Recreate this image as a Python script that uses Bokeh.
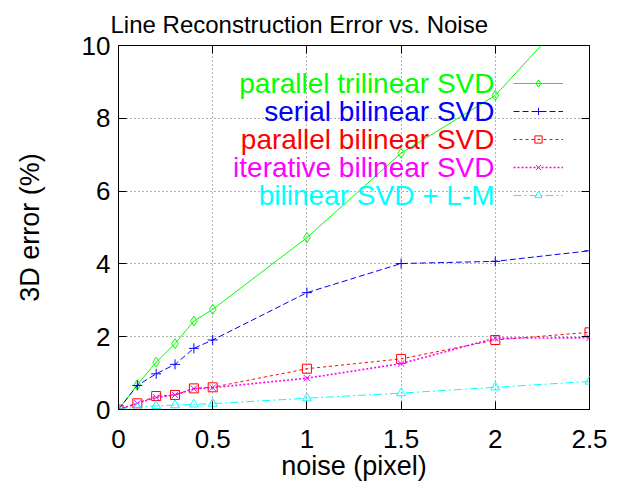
from bokeh.plotting import figure
from bokeh.models import (Range1d, FixedTicker, LinearAxis, Legend, LegendItem,
                          Label, CustomJSTickFormatter)
from bokeh.core.properties import value
from bokeh.embed import file_html
from bokeh.resources import INLINE

FONT = "Liberation Sans"

# ---- data ----
noise = [0, 0.1, 0.2, 0.3, 0.4, 0.5, 1, 1.5, 2, 2.5]
parallel_trilinear = [0, 0.68, 1.30, 1.81, 2.43, 2.75, 4.72, 7.04, 8.63, 11.45]
serial_bilinear = [0, 0.66, 0.98, 1.24, 1.68, 1.91, 3.21, 4.01, 4.07, 4.36]
parallel_bilinear = [0, 0.17, 0.37, 0.40, 0.58, 0.61, 1.12, 1.39, 1.91, 2.12]
iterative_bilinear = [0, 0.17, 0.33, 0.40, 0.57, 0.60, 0.86, 1.26, 1.96, 1.97]
bilinear_lm = [0, 0.06, 0.10, 0.12, 0.14, 0.16, 0.31, 0.45, 0.61, 0.77]

series_names = ["parallel trilinear SVD", "serial bilinear SVD", "parallel bilinear SVD",
                "iterative bilinear SVD", "bilinear SVD + L-M"]
x_ticks = [0, 0.5, 1, 1.5, 2, 2.5]
x_tick_labels = ["0", "0.5", "1", "1.5", "2", "2.5"]
y_ticks = [0, 2, 4, 6, 8, 10]
y_tick_labels = ["0", "2", "4", "6", "8", "10"]

series_values = [parallel_trilinear, serial_bilinear, parallel_bilinear,
                 iterative_bilinear, bilinear_lm]
colors = ["#00ff00", "#0000ff", "#ff0000", "#ff00ff", "#00ffff"]
dashes = ["solid", "6 3", "3 3", "2 2", "8 3 2 3"]
widths = [1, 1, 1, 1.6, 1]
markers = ["diamond", "cross", "square", "x", "triangle"]
msizes = [10, 10, 9, 9, 9]

p = figure(frame_width=471, frame_height=364,
           x_range=Range1d(0, 2.5), y_range=Range1d(0, 10),
           output_backend="svg", toolbar_location=None,
           min_border_left=118, min_border_right=24,
           min_border_top=45, min_border_bottom=70,
           background_fill_color="white", border_fill_color="white")

p.title.text = "Line Reconstruction Error vs. Noise"
p.title.text_font = FONT
p.title.text_font_size = "24px"
p.title.text_font_style = "normal"
p.title.text_color = "black"
p.title.align = "left"
p.title.offset = -8
p.title.standoff = 16

p.outline_line_color = "black"
p.outline_line_width = 1

# axes
xa = p.xaxis[0]
xa.ticker = FixedTicker(ticks=x_ticks)
xa.major_label_overrides = {t: l for t, l in zip(x_ticks, x_tick_labels)}
ya = p.yaxis[0]
ya.ticker = FixedTicker(ticks=y_ticks)
ya.major_label_overrides = {t: l for t, l in zip(y_ticks, y_tick_labels)}

for ax in (xa, ya):
    ax.major_tick_in = 8
    ax.major_tick_out = 0
    ax.minor_tick_line_color = None
    ax.axis_line_color = "black"
    ax.major_label_text_font = FONT
    ax.major_label_text_font_size = "26px"
    ax.major_label_text_color = "black"
    ax.axis_label_text_font = FONT
    ax.axis_label_text_font_size = "27px"
    ax.axis_label_text_font_style = "normal"
    ax.axis_label_text_color = "black"

xa.axis_label = "noise (pixel)"
xa.major_label_standoff = 20
xa.axis_label_standoff = 0
ya.axis_label = "3D error (%)"
ya.major_label_standoff = 8
ya.axis_label_standoff = 34

empty = CustomJSTickFormatter(code="return ''")
for loc, ticks in (("right", y_ticks), ("above", x_ticks)):
    ax = LinearAxis(ticker=FixedTicker(ticks=ticks), formatter=empty,
                    major_tick_in=8, major_tick_out=0,
                    minor_tick_line_color=None, axis_line_color=None,
                    major_label_text_font_size="1px", major_label_standoff=0)
    p.add_layout(ax, loc)

# grid
for g, ticks in ((p.xgrid[0], x_ticks), (p.ygrid[0], y_ticks)):
    g.ticker = FixedTicker(ticks=ticks)
    g.grid_line_color = "#666666"
    g.grid_line_dash = "1 3"
    g.grid_line_width = 1

items = []
for name, vals, c, d, w, m, s in zip(series_names, series_values, colors, dashes,
                                     widths, markers, msizes):
    r1 = p.line(noise, vals, line_color=c, line_dash=d, line_width=w)
    r2 = p.scatter(noise, vals, marker=m, size=s, line_color=c, fill_color=None, line_width=1)
    items.append(LegendItem(label="", renderers=[r1, r2]))

legend = Legend(items=items, location=(395, 205), orientation="vertical",
                glyph_width=50, glyph_height=18, label_height=18, label_width=0,
                label_standoff=0, spacing=10, padding=0, margin=0,
                border_line_alpha=0, background_fill_alpha=0,
                label_text_font_size="1px")
p.add_layout(legend, "center")

row_y = [325.7, 297.7, 269.7, 241.7, 213.7]
for name, c, yy in zip(series_names, colors, row_y):
    p.add_layout(Label(x=376, y=yy, x_units="screen", y_units="screen", text=name,
                       text_align="right", text_baseline="middle", text_font=FONT,
                       text_font_size="28px", text_color=c))

open("out.html", "w").write(file_html(p, INLINE))
